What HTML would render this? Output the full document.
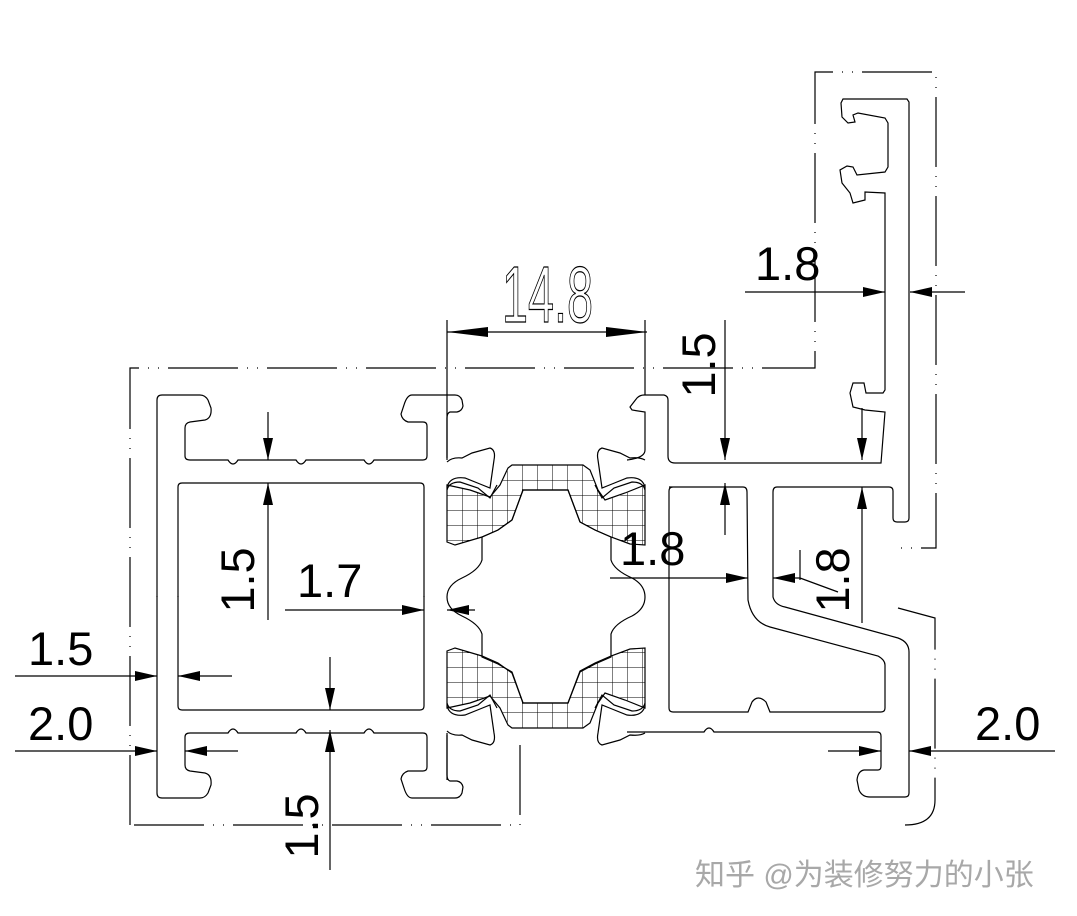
<!DOCTYPE html>
<html><head><meta charset="utf-8"><style>
html,body{margin:0;padding:0;background:#fff;}
svg{display:block;}
.t{font-family:"Liberation Sans",sans-serif;font-size:47px;fill:#000;}
</style></head><body>
<svg width="1077" height="916" viewBox="0 0 1077 916" xmlns="http://www.w3.org/2000/svg">
<defs>
<pattern id="h" width="15" height="15" patternUnits="userSpaceOnUse" x="447" y="465">
<path d="M0,0 H15 M0,0 V15" stroke="#000" stroke-width="1" fill="none"/>
</pattern>
<g id="leftTop">
<path d="M157,597 L157,400 Q157,395 162,395 L200,395 Q205,395 208,400 L211,408 Q212,418 205,420 L190,422 Q185,423 185,428 L185,456 Q185,460 190,460 L228,460 Q233,468 238,460 L296,460 Q301,468 306,460 L364,460 Q369,468 374,460 L423,460 Q427,460 427,456 L427,426 Q427,422 423,422 L408,422 Q402,420 401,414 L404,405 Q407,395 412,395 L455,395 Q460,395 462,400 L463,406 Q462,411 457,412 L450,412 Q447,413 447,418 L447,458"/>
<path d="M178,597 L178,487 Q178,483 182,483 L420,483 Q424,483 424,487 L424,597"/>
<path d="M447,462 Q452,457 462,458 L472,453 L490,448 Q496,450 494,460 L490,488 L480,484 L465,478 Q450,476 447,487"/>
<path d="M447,490 Q449,482 460,482 L478,488 L490,498 L497,485"/>
<path d="M645,460 Q640,457 630,458 L620,453 L602,448 Q596,450 598,460 L602,488 L612,484 L627,478 Q642,476 645,487"/>
<path d="M645,490 Q643,482 632,482 L614,488 L602,498 L595,485"/>
<path d="M447,485 L470,490 L490,497 L500,485 L508,468 L512,465 L583,465 L590,470 L598,490 L605,500 L625,493 L645,485 L645,545 L630,544 L611,537 L595,530 L580,522 L568,490 L523,490 L512,520 L498,530 L482,537 L455,545 L447,542 Z" fill="url(#h)"/>
</g>
</defs>
<g fill="none" stroke="#000" stroke-width="1.2">
<use href="#leftTop"/>
<use href="#leftTop" transform="matrix(1,0,0,-1,0,1193)"/>
<path d="M627,460 Q645,458 645,450 L645,412 L632,410 L630,407 L637,398 Q640,395 644,395 L664,395 Q668,396 668,400"/>
<!-- star -->
<path d="M523,490 L568,490 L580,522 L595,530 L611,537 L611,560 Q614,570 632,578 Q645,585 645,597 Q645,609 632,616 Q614,624 611,634 L611,657 L595,664 L580,672 L568,703 L523,703 L512,672 L498,664 L482,657 L482,634 Q479,624 462,616 Q447,609 447,597 Q447,585 462,578 Q479,570 482,560 L482,537 L498,530 L512,520 Z"/>
<!-- right profile -->
<path d="M668,400 L668,456 Q668,463 675,463 L881,463 L885,412 L865,410 L853,407 L850,393 L853,383 L864,383 L866,393 L883,393 L885,390 L885,193 L865,192 L865,200 L853,203 L850,193 L842,183 L840,170 L847,166 L853,167 L857,175 L885,172 L888,167 L888,123 L885,118 L858,113 L853,115 L855,122 L848,123 L842,117 L841,103 L843,99 L907,99 L909,102 L909,518 Q909,522 905,522 L897,522 Q893,522 893,518 L893,491 Q893,487 889,487 L777,487 Q773,487 773,492 L773,597 Q775,605 785,607 L898,638 Q909,642 909,652 L909,793 Q909,797 905,797 L870,797 Q862,797 859,790 L857,780 Q858,771 864,770 L878,770 Q881,770 881,766 L881,736 Q881,732 877,732 L714,732 Q709,724 704,732 L627,732"/>
<path d="M669,487 L743,487 Q747,487 747,492 L748,600 Q752,622 770,627 L878,656 Q885,660 885,665 L885,708 Q885,712 881,712 L770,712 L766,702 Q758,694 752,702 L748,712 L673,712 Q669,712 669,708 L669,491 Q669,487 673,487"/>
<line x1="447" y1="320" x2="447" y2="460"/>
<line x1="447" y1="733" x2="447" y2="780"/>
<line x1="645" y1="320" x2="645" y2="395"/>
</g>
<!-- dash-dot outlines -->
<g fill="none" stroke="#000" stroke-width="1.2" stroke-dasharray="70 9 1 9 1 9">
<path d="M130,825 L130,368 L815,368 L815,72 L936,72 L936,548 L893,548"/>
<path d="M520,745 L520,825 L130,825"/>
<path d="M898,608 L935,618 L935,800 Q935,825 905,825"/>
</g>
<!-- dimension lines -->
<g stroke="#000" stroke-width="1.2" fill="none">
<line x1="447" y1="332" x2="647" y2="332"/>
<line x1="745" y1="292" x2="885" y2="292"/><line x1="910" y1="292" x2="965" y2="292"/>
<line x1="725" y1="320" x2="725" y2="460"/><line x1="725" y1="483" x2="725" y2="535"/>
<line x1="862" y1="408" x2="862" y2="460"/><line x1="862" y1="487" x2="862" y2="623"/>
<line x1="610" y1="578" x2="748" y2="578"/><line x1="773" y1="578" x2="800" y2="578"/><line x1="800" y1="550" x2="800" y2="580"/><line x1="800" y1="578" x2="838" y2="592"/>
<line x1="268" y1="412" x2="268" y2="460"/><line x1="268" y1="483" x2="268" y2="620"/>
<line x1="285" y1="610" x2="424" y2="610"/><line x1="447" y1="610" x2="475" y2="610"/>
<line x1="15" y1="676" x2="157" y2="676"/><line x1="178" y1="676" x2="232" y2="676"/>
<line x1="15" y1="751" x2="157" y2="751"/><line x1="185" y1="751" x2="238" y2="751"/>
<line x1="330" y1="657" x2="330" y2="710"/><line x1="330" y1="730" x2="330" y2="870"/>
<line x1="828" y1="751" x2="881" y2="751"/><line x1="909" y1="751" x2="1055" y2="751"/>
</g>
<g fill="#000">
<polygon points="447,332 488,327 488,337"/><polygon points="647,332 606,327 606,337"/>
<polygon points="885,292 863,287 863,297"/><polygon points="910,292 932,287 932,297"/>
<polygon points="725,460 720,438 730,438"/><polygon points="725,483 720,505 730,505"/>
<polygon points="862,460 857,438 867,438"/><polygon points="862,487 857,509 867,509"/>
<polygon points="748,578 726,573 726,583"/><polygon points="773,578 795,573 795,583"/>
<polygon points="268,460 263,438 273,438"/><polygon points="268,483 263,505 273,505"/>
<polygon points="424,610 402,605 402,615"/><polygon points="447,610 469,605 469,615"/>
<polygon points="157,676 135,671 135,681"/><polygon points="178,676 200,671 200,681"/>
<polygon points="157,751 135,746 135,756"/><polygon points="185,751 207,746 207,756"/>
<polygon points="330,710 325,688 335,688"/><polygon points="330,730 325,752 335,752"/>
<polygon points="881,751 859,746 859,756"/><polygon points="909,751 931,746 931,756"/>
</g>
<!-- texts -->
<text x="502" y="322" font-family="Liberation Sans, sans-serif" font-size="80" fill="none" stroke="#000" stroke-width="1.2" textLength="91" lengthAdjust="spacingAndGlyphs">14.8</text>
<text class="t" x="755" y="280">1.8</text>
<text class="t" x="620" y="565">1.8</text>
<text class="t" x="297" y="597">1.7</text>
<text class="t" x="28" y="665">1.5</text>
<text class="t" x="28" y="740">2.0</text>
<text class="t" x="975" y="740">2.0</text>
<text class="t" transform="translate(715,365) rotate(-90)" text-anchor="middle">1.5</text>
<text class="t" transform="translate(254,580) rotate(-90)" text-anchor="middle">1.5</text>
<text class="t" transform="translate(318,826) rotate(-90)" text-anchor="middle">1.5</text>
<text class="t" transform="translate(849,580) rotate(-90)" text-anchor="middle">1.8</text>
<text x="695" y="885" font-family="Liberation Sans, 'Noto Sans CJK SC', sans-serif" font-size="30" fill="#a8a8a8">知乎 @为装修努力的小张</text>
</svg>
</body></html>
